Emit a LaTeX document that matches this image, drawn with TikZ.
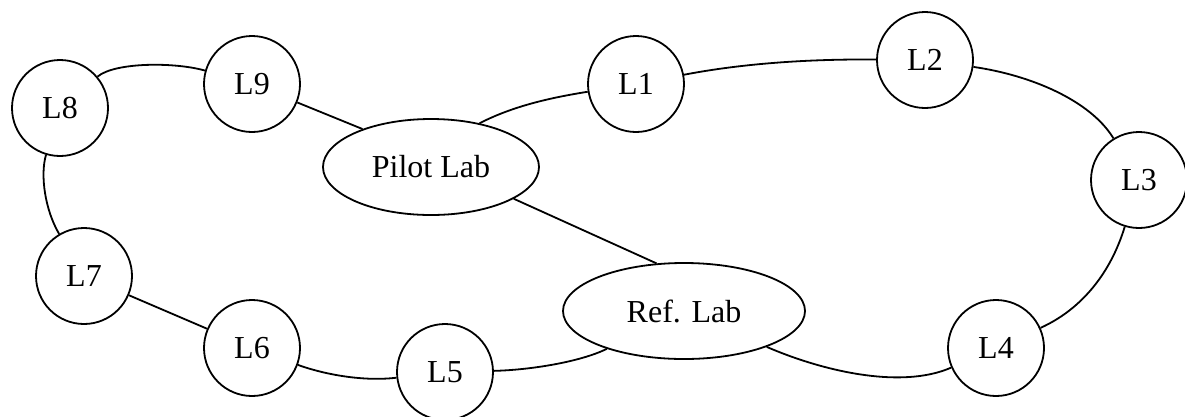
\documentclass[tikz,border=0pt]{standalone}
\usepackage{fontspec}
\setmainfont{Liberation Serif}
\usetikzlibrary{shapes.geometric}
\begin{document}
\begin{tikzpicture}[x=1pt,y=-1pt,
  lab/.style={circle,draw,line width=1.8pt,minimum size=96pt,inner sep=0pt,font=\fontsize{32}{38}\selectfont},
  hub/.style={ellipse,draw,line width=1.8pt,minimum height=96pt,inner sep=0pt,font=\fontsize{32}{38}\selectfont},
  link/.style={line width=1.8pt}]
\useasboundingbox (0,0) rectangle (1185,416);
\node[lab] (L8) at (60,108) {L8};
\node[lab] (L9) at (252,84) {L9};
\node[lab] (L1) at (636,84) {L1};
\node[lab] (L2) at (925,60) {L2};
\node[lab] (L3) at (1139,180) {L3};
\node[lab] (L4) at (996,348) {L4};
\node[lab] (L5) at (445,372) {L5};
\node[lab] (L6) at (252,348) {L6};
\node[lab] (L7) at (84,276) {L7};
\node[hub,minimum width=216pt] (P) at (431,167) {Pilot Lab};
\node[hub,minimum width=242pt] (R) at (684,311) {Ref. Lab};
\draw[link] (L8) .. controls (115,62) and (175,62) .. (L9);
\draw[link] (L9) -- (P.151);
\draw[link] (P.42) .. controls (515,105) and (555,97) .. (L1);
\draw[link] (L1) .. controls (750,62) and (820,59) .. (L2);
\draw[link] (L2) .. controls (1030,75) and (1090,100) .. (L3);
\draw[link] (L3) .. controls (1110,275) and (1080,310) .. (L4);
\draw[link] (L4) .. controls (900,390) and (820,370) .. (R);
\draw[link] (R) .. controls (580,362) and (530,370) .. (L5);
\draw[link] (L5) .. controls (360,382) and (320,373) .. (L6);
\draw[link] (L6) -- (L7);
\draw[link] (L7) .. controls (45,210) and (40,175) .. (L8);
\draw[link] (P.-21) -- (R.120);
\end{tikzpicture}
\end{document}
